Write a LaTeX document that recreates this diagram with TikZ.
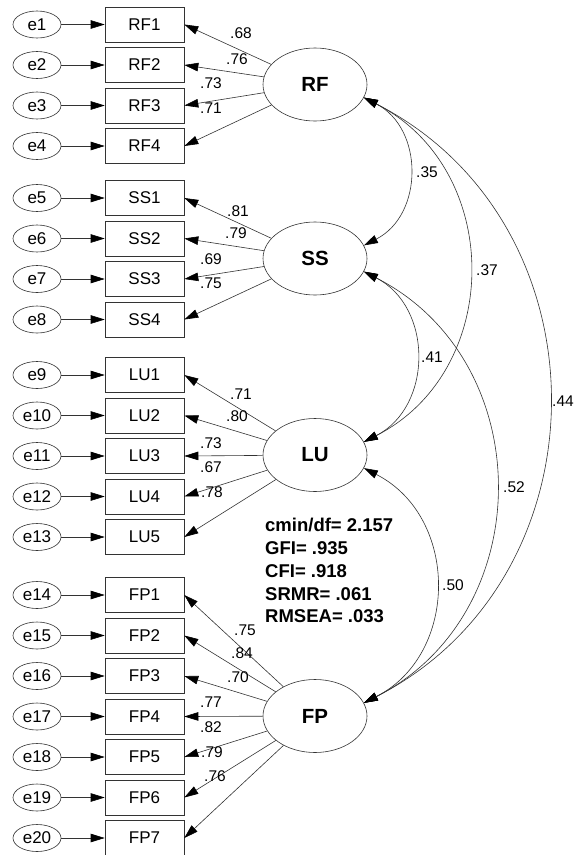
\documentclass[tikz,border=0pt]{standalone}
\usepackage{fontspec}
\setmainfont{Liberation Sans}
\usetikzlibrary{shapes.geometric,arrows.meta}
\begin{document}
\begin{tikzpicture}[x=1pt,y=-1pt,
  ln/.style={draw=black!80, line width=0.6pt},
  err/.style={ellipse, ln, minimum width=48pt, minimum height=27pt, inner sep=0pt, font=\fontsize{17}{17}\selectfont},
  ind/.style={rectangle, ln, minimum width=79pt, minimum height=35pt, inner sep=0pt, font=\fontsize{17}{17}\selectfont},
  lat/.style={ellipse, ln, minimum width=104pt, minimum height=73pt, inner sep=0pt, font=\bfseries\fontsize{20.5}{20.5}\selectfont},
  tip/.tip={Triangle[length=14pt,width=8.5pt,color=black]},
  arr/.style={draw=black!80, line width=0.6pt, -tip},
  cov/.style={draw=black!80, line width=0.6pt, tip-tip, bend left=63, looseness=1.17},
  lab/.style={inner sep=0pt, text height=11pt, text depth=0pt, font=\fontsize{15.5}{15.5}\selectfont},
  fitlab/.style={anchor=west, inner sep=0pt, text height=13pt, text depth=0pt, font=\bfseries\fontsize{18.5}{18.5}\selectfont}
]
\useasboundingbox (0,0) rectangle (574,855);

% latent variables
\node[lat] (RF) at (315,84.5) {RF};
\node[lat] (SS) at (315,258.5) {SS};
\node[lat] (LU) at (315,455) {LU};
\node[lat] (FP) at (315,716) {FP};

% indicators with error terms and loadings
\foreach \n/\y/\e/\L in {RF1/24.5/1/RF, RF2/65/2/RF, RF3/105.5/3/RF, RF4/146/4/RF,
  SS1/198/5/SS, SS2/238.5/6/SS, SS3/279/7/SS, SS4/319.5/8/SS,
  LU1/375/9/LU, LU2/415.5/10/LU, LU3/456/11/LU, LU4/496.5/12/LU, LU5/537/13/LU,
  FP1/595/14/FP, FP2/635.5/15/FP, FP3/676/16/FP, FP4/716.5/17/FP, FP5/757/18/FP, FP6/797.5/19/FP, FP7/838/20/FP}{
  \node[ind] (\n) at (144.5,\y) {\n};
  \node[err] (e\e) at (37,\y) {e\e};
  \draw[arr] (e\e) -- (\n);
  \draw[arr] (\L) -- (\n.east);
}

% loading labels
\foreach \t/\x/\y/\k in {.68/241/33/a1, .76/237/59/a2, .73/211/83/a3, .71/211/108/a4,
  .81/238/211/b1, .79/236/233/b2, .69/211/259/b3, .75/211/283/b4,
  .71/241/394/c1, .80/237/416/c2, .73/211/443/c3, .67/211/467/c4, .78/212/492/c5,
  .75/245/630/d1, .84/242/653/d2, .70/238/677/d3, .77/211/702/d4, .82/211/727/d5, .79/212/752/d6, .76/215/776/d7}{
  \node[lab] (l\k) at (\x,\y) {\t};
}

% covariances
\draw[cov] (RF.-15) to (SS.15);
\draw[cov] (RF.-15) to (LU.15);
\draw[cov] (RF.-15) to (FP.15);
\draw[cov] (SS.-15) to (LU.15);
\draw[cov] (SS.-15) to (FP.15);
\draw[cov] (LU.-15) to (FP.15);

\node[lab] (cRS) at (427,172) {.35};
\node[lab] (cRL) at (487,270) {.37};
\node[lab] (cSL) at (432,357) {.41};
\node[lab] (cSF) at (514,487) {.52};
\node[lab] (cLF) at (453,585) {.50};
\node[lab, anchor=west] (cRF) at (552,401) {.44};

% fit indices
\node[fitlab] (f1) at (265,525) {cmin/df= 2.157};
\node[fitlab] (f2) at (265,548) {GFI= .935};
\node[fitlab] (f3) at (265,571) {CFI= .918};
\node[fitlab] (f4) at (265,593.5) {SRMR= .061};
\node[fitlab] (f5) at (265,616) {RMSEA= .033};
\end{tikzpicture}
\end{document}
